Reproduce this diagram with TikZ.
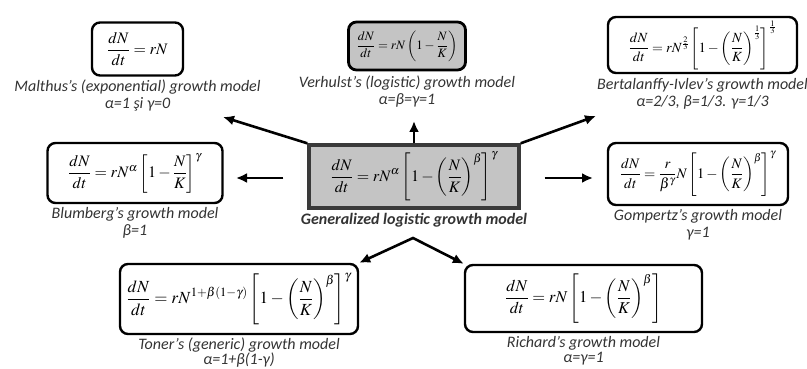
\documentclass[tikz,border=0pt]{standalone}
\usepackage{mathptmx}
\usepackage{fontspec}
\setmainfont{Carlito}
\usetikzlibrary{positioning,arrows.meta}
\definecolor{boxgray}{HTML}{C4C4C4}
\definecolor{edgegray}{HTML}{3A3A3A}
\definecolor{capgray}{HTML}{333333}
\tikzset{
  eqbox/.style={draw=black, line width=2.4pt, rounded corners=8pt, inner sep=0pt},
  verbox/.style={eqbox, fill=boxgray, line width=2.8pt},
  genbox/.style={draw=edgegray, line width=3.4pt, fill=boxgray, inner sep=0pt},
  caption/.style={font=\itshape\fontsize{16}{17}\selectfont, text=capgray, align=center, inner sep=0pt},
  arr/.style={-{Latex[length=11pt,width=10pt]}, line width=2.6pt},
}

\begin{document}
\begin{tikzpicture}[x=1pt,y=-1pt]
  \useasboundingbox (0,0) rectangle (807,369);

  % central model
  \node[genbox, minimum width=210pt, minimum height=63pt, font=\fontsize{16}{19}\selectfont] (gen) at (414,176.5)
    {$\displaystyle\frac{dN}{dt}=rN^{\alpha}\left[1-\left(\frac{N}{K}\right)^{\beta}\right]^{\gamma}$};
  \node[caption, font=\bfseries\itshape\fontsize{16}{17}\selectfont, below=3pt of gen] (gencap) {Generalized logistic growth model};

  % top row
  \node[eqbox, minimum width=91pt, minimum height=53pt, font=\fontsize{16}{18}\selectfont] (mal) at (137.5,49)
    {$\displaystyle\frac{dN}{dt}=rN$};
  \node[caption, below=3pt of mal] (malcap) {Malthus’s (exponential) growth model\\α=1 şi γ=0};

  \node[verbox, minimum width=117pt, minimum height=48pt, font=\fontsize{12.8}{15}\selectfont] (ver) at (407,46)
    {$\displaystyle\frac{dN}{dt}=rN\left(1-\frac{N}{K}\right)$};
  \node[caption, below=4pt of ver] (vercap) {Verhulst’s (logistic) growth model\\α=β=γ=1};

  \node[eqbox, minimum width=189pt, minimum height=56pt, font=\fontsize{14}{17}\selectfont] (ber) at (702.5,45)
    {$\displaystyle\frac{dN}{dt}=rN^{\frac{2}{3}}\left[1-\left(\frac{N}{K}\right)^{\frac{1}{3}}\right]^{\frac{1}{3}}$};
  \node[caption, below=4pt of ber] (bercap) {Bertalanffy-Ivlev’s growth model\\α=2/3, β=1/3. γ=1/3};

  % middle row
  \node[eqbox, minimum width=175pt, minimum height=60pt, font=\fontsize{16}{19}\selectfont] (blu) at (135,173)
    {$\displaystyle\frac{dN}{dt}=rN^{\alpha}\left[1-\frac{N}{K}\right]^{\gamma}$};
  \node[caption, below=3pt of blu] (blucap) {Blumberg’s growth model\\β=1};

  \node[eqbox, minimum width=180pt, minimum height=62pt, font=\fontsize{14.5}{17}\selectfont] (gom) at (698,174)
    {$\displaystyle\frac{dN}{dt}=\frac{r}{\beta^{\gamma}}N\left[1-\left(\frac{N}{K}\right)^{\beta}\right]^{\gamma}$};
  \node[caption, below=3pt of gom] (gomcap) {Gompertz’s growth model\\γ=1};

  % bottom row
  \node[eqbox, minimum width=238pt, minimum height=70pt, font=\fontsize{17}{20}\selectfont] (ton) at (239,299)
    {$\displaystyle\frac{dN}{dt}=rN^{1+\beta(1-\gamma)}\left[1-\left(\frac{N}{K}\right)^{\beta}\right]^{\gamma}$};
  \node[caption, font=\itshape\fontsize{16}{15}\selectfont, below=2pt of ton] (toncap) {Toner’s (generic) growth model\\α=1+β(1-γ)};

  \node[eqbox, minimum width=237pt, minimum height=67pt, font=\fontsize{16.5}{19}\selectfont] (ric) at (583.5,298.5)
    {$\displaystyle\frac{dN}{dt}=rN\left[1-\left(\frac{N}{K}\right)^{\beta}\right]$};
  \node[caption, font=\itshape\fontsize{16}{15}\selectfont, below=3pt of ric] (riccap) {Richard’s growth model\\α=γ=1};

  % arrow ends
  \coordinate (tipmal) at (223,117);
  \coordinate (tipver) at (414,121);
  \coordinate (tipber) at (596,116);
  \coordinate (tipblu) at (236,178);
  \coordinate (tipgom) at (593,178);
  \coordinate (fork) at (413,238);

  \draw[arr] (gen.north west) -- (tipmal);
  \draw[arr] (gen.north) -- (tipver);
  \draw[arr] (gen.north east) -- (tipber);
  \draw[arr, shorten <=24pt] (gen.west |- tipblu) -- (tipblu);
  \draw[arr, shorten <=24pt] (gen.east |- tipgom) -- (tipgom);
  \draw[arr, {Latex[length=11pt,width=10pt]}-{Latex[length=11pt,width=10pt]}] (ton.north east) -- (fork) -- (ric.north west);
\end{tikzpicture}
\end{document}
